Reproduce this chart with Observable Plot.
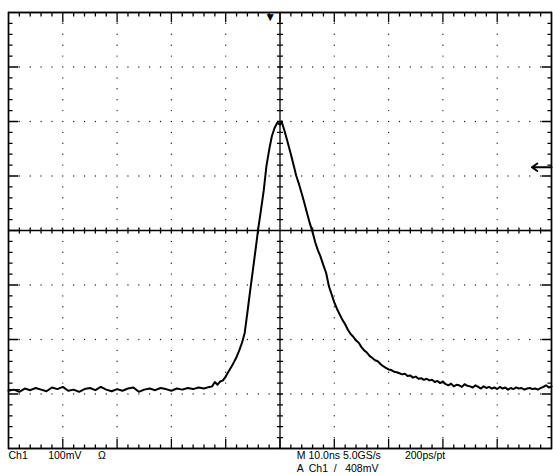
<!DOCTYPE html>
<html><head><meta charset="utf-8">
<script src="https://cdn.jsdelivr.net/npm/d3@7"></script>
<script src="https://cdn.jsdelivr.net/npm/@observablehq/plot@0.6"></script>
<style>html,body{margin:0;padding:0;background:#fff;}svg{display:block;}</style>
</head><body><div id="chart"></div>
<script>
// Trace samples: time (ns, 0 = screen centre) and voltage (mV, 0 = Ch1 ground)
const timeNs = [
 -50,-49,-48,-47,-46,-45,-44,-43,-42,-41,-40,-39,-38,-37,-36,-35,-34,-33,-32,-31,
 -30,-29,-28,-27,-26,-25,-24,-23,-22,-21,-20,-19,-18,-17,-16,-15,-14,-13,
 -12.5,-12,-11.5,-11,-10.5,-10,-9.5,-9,-8.5,-8,-7.5,-7,-6.5,-6,-5.5,-5,-4.5,-4,
 -3.5,-3,-2.5,-2,-1.5,-1,-0.5,0,0.3,0.8,1.3,2,2.5,3,3.5,4,4.5,5,5.5,6,6.5,7,7.4,
 8,8.5,9,9.5,10,10.5,11,11.5,12,12.5,13,13.5,14,14.5,15,15.5,16,16.5,17,17.5,18,18.5,
 19,19.5,20,20.5,21,21.5,22,22.5,23,23.5,24,24.5,25,25.5,26,26.5,27,27.5,28,28.5,
 29,29.5,30,30.5,31,31.5,32,32.5,33,33.5,34,34.5,35,35.5,36,36.5,37,37.5,38,38.5,
 39,39.5,40,40.5,41,41.5,42,42.5,43,43.5,44,44.5,45,45.5,46,46.5,47,47.5,48,48.5,
 49,49.5,50
];
const voltMv = [
 -2,0,-4,2,-1,3,0,-3,4,1,5,-2,0,-4,1,3,-1,5,0,-3,
 1,-2,2,4,-4,0,2,-1,3,1,-2,2,0,3,1,4,2,5,
 6,14,9,15,17,24,33,41,50,60,72,86,104,142,181,219,257,296,
 330,365,410,440,465,480,490,486,492,476,458,432,412,392,377,360,342,323,305,289,270,255,246,
 228,214,190,175,160,148,138,128,120,110,102,97,90,86,78,72,68,62,58,54,52,47,
 43,40,37,36,33,32,30,28,29,25,26,22,24,20,21,18,20,17,18,14,
 16,12,15,10,8,11,6,9,8,5,10,7,6,4,8,5,2,6,3,5,
 2,4,1,5,2,4,0,3,1,4,2,3,0,2,3,1,2,0,3,5,
 8,4,6
];
// Readout texts below the graticule
const row1Text = ["Ch1", "100mV", "Ω", "M 10.0ns 5.0GS/s", "200ps/pt"];
const row1Pos  = [-50, -42.7, -33.5, 3.1, 23.0];
const row2Text = ["A", "Ch1", "/", "408mV"];
const row2Pos  = [3.1, 5.3, 9.9, 12.0];

// Scope settings
const nsPerDiv = 10, mvPerDiv = 100, centerMv = 292, hDivs = 10, vDivs = 8;
const trigLevelMv = 408, trigPosNs = -1.8;

const trace = timeNs.map((t, i) => ({t, v: voltMv[i]}));
const xMin = -nsPerDiv * hDivs / 2, xMax = nsPerDiv * hDivs / 2;
const yMin = centerMv - mvPerDiv * vDivs / 2, yMax = centerMv + mvPerDiv * vDivs / 2;
const xMinorStep = nsPerDiv / 5, yMinorStep = mvPerDiv / 5;
const xAll = d3.range(0, hDivs * 5 + 1).map(k => xMin + k * xMinorStep);
const yAll = d3.range(0, vDivs * 5 + 1).map(k => yMin + k * yMinorStep);
const xMinor = xAll.slice(1, -1), yMinor = yAll.slice(1, -1);
const isMajorX = x => Math.abs(((x - xMin) / nsPerDiv) - Math.round((x - xMin) / nsPerDiv)) < 1e-6;
const isMajorY = y => Math.abs(((y - yMin) / mvPerDiv) - Math.round((y - yMin) / mvPerDiv)) < 1e-6;
const xMajorIn = d3.range(1, hDivs).map(k => xMin + k * nsPerDiv);
const yMajorIn = d3.range(1, vDivs).map(k => yMin + k * mvPerDiv);

// tick lengths (in divisions)
const tMinor = 0.075, tMajor = 0.18, cHalf = 0.055;
const lenX = f => f * nsPerDiv, lenY = f => f * mvPerDiv;

// dotted grid
const dots = [];
for (const x of xMajorIn) if (x !== 0) for (const y of yMinor) if (Math.abs(y - centerMv) > 1e-6) dots.push({x, y});
for (const y of yMajorIn) if (y !== centerMv) for (const x of xMinor) if (x !== 0 && !isMajorX(x)) dots.push({x, y});

// graticule drawn as comb polylines (one continuous path per edge / centre line)
const comb = [];
for (const x of xAll) {
  const l = (x === xMin || x === xMax) ? 0 : lenY(isMajorX(x) ? tMajor : tMinor);
  comb.push({c: "top", x, y: yMax}, {c: "top", x, y: yMax - l}, {c: "top", x, y: yMax});
  comb.push({c: "bot", x, y: yMin}, {c: "bot", x, y: yMin + l}, {c: "bot", x, y: yMin});
  const h = (x === xMin || x === xMax || x === 0) ? 0 : lenY(cHalf);
  comb.push({c: "cH", x, y: centerMv}, {c: "cH", x, y: centerMv - h}, {c: "cH", x, y: centerMv + h}, {c: "cH", x, y: centerMv});
}
for (const y of yAll) {
  const l = (y === yMin || y === yMax) ? 0 : lenX(isMajorY(y) ? tMajor : tMinor);
  comb.push({c: "left", x: xMin, y}, {c: "left", x: xMin + l, y}, {c: "left", x: xMin, y});
  comb.push({c: "right", x: xMax, y}, {c: "right", x: xMax - l, y}, {c: "right", x: xMax, y});
  const h = (y === yMin || y === yMax || y === centerMv) ? 0 : lenX(cHalf);
  comb.push({c: "cV", x: 0, y}, {c: "cV", x: -h, y}, {c: "cV", x: h, y}, {c: "cV", x: 0, y});
}
// Ch1 ground marker
comb.push({c: "gnd", x: xMin, y: 0}, {c: "gnd", x: xMin + lenX(0.2), y: 0});

const trigArrow = [{y: trigLevelMv, x1: xMax, x2: xMax - lenX(0.36)}];
const trigPos = [{x: trigPosNs, text: "▼"}];
const row1 = row1Text.map((text, i) => ({text, t: row1Pos[i]}));
const row2 = row2Text.map((text, i) => ({text, t: row2Pos[i]}));

const chart = Plot.plot({
  width: 553, height: 475,
  marginLeft: 8, marginRight: 2, marginTop: 12, marginBottom: 27,
  style: {fontFamily: "'Liberation Sans', Arial, sans-serif", background: "#fff", color: "#000"},
  x: {domain: [xMin, xMax], axis: null},
  y: {domain: [yMin, yMax], axis: null},
  marks: [
    Plot.dot(dots, {x: "x", y: "y", r: 0.7, fill: "#222", stroke: null}),
    Plot.line(comb, {x: "x", y: "y", z: "c", stroke: "#000", strokeWidth: 1.3, strokeLinejoin: "bevel", curve: "linear"}),
    Plot.frame({stroke: "#000", strokeWidth: 1.5}),
    Plot.arrow(trigArrow, {x1: "x1", x2: "x2", y1: "y", y2: "y", stroke: "#000", strokeWidth: 2, headLength: 8, headAngle: 70}),
    Plot.text(trigPos, {x: "x", text: "text", frameAnchor: "top", dy: 0, fontSize: 12, fill: "#000"}),
    Plot.line(trace, {x: "t", y: "v", stroke: "#000", strokeWidth: 2, strokeLinejoin: "round"}),
    Plot.text(row1, {x: "t", text: "text", frameAnchor: "bottom", dy: 10, textAnchor: "start", fontSize: 10.5, fill: "#000"}),
    Plot.text(row2, {x: "t", text: "text", frameAnchor: "bottom", dy: 23, textAnchor: "start", fontSize: 10.5, fill: "#000"})
  ]
});
document.getElementById("chart").appendChild(chart);
</script>
</body></html>
